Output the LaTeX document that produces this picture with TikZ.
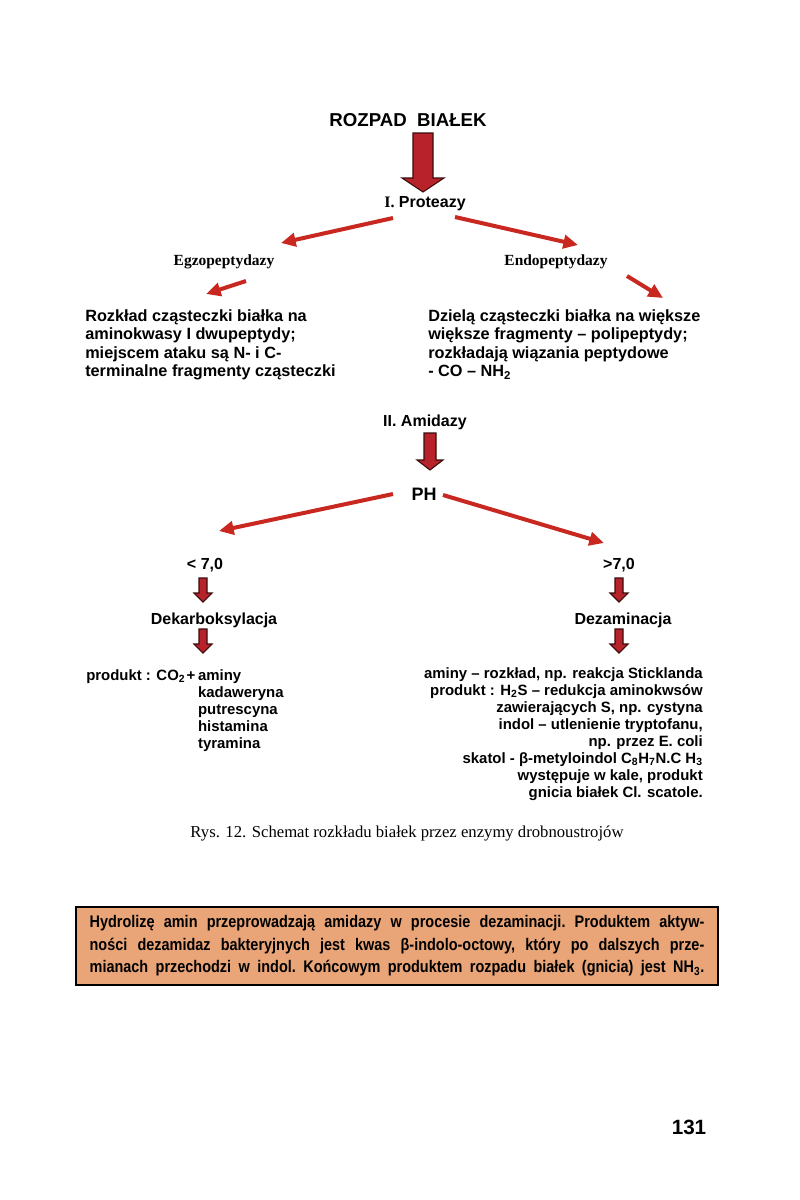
\documentclass[tikz,border=0pt]{standalone}
\usepackage{fontspec}
\setmainfont{Liberation Serif}
\newfontfamily\arialfont{Liberation Sans}
\newfontfamily\narrowfont[FakeStretch=0.86]{Liberation Sans}
\usetikzlibrary{arrows.meta, positioning}
\definecolor{protRed}{HTML}{C8281F}
\definecolor{protDark}{HTML}{3A0C0C}
\definecolor{blockRed}{HTML}{B8222A}
\definecolor{noteOrange}{HTML}{E9A478}

\begin{document}
\begin{tikzpicture}[x=0.75pt, y=-0.75pt,
    sanshead/.style={font=\arialfont\fontsize{12}{14}\selectfont\bfseries, inner sep=0pt},
    serifhead/.style={font=\fontsize{11.6}{14}\selectfont\bfseries, inner sep=0pt},
    bodytxt/.style={font=\arialfont\fontsize{12.2}{13.9}\selectfont\bfseries, inner sep=0pt, align=left},
    listtxt/.style={font=\arialfont\fontsize{11.2}{12.8}\selectfont\bfseries, inner sep=0pt},
    redarr/.style={draw=protRed, line width=3pt, -{Triangle[length=11pt, width=10pt]}},
    blockarr/.style={fill=blockRed, draw=protDark, line width=0.8pt, line join=miter},
    bigdown/.pic={\path[blockarr] (-10,0) -- (10,0) -- (10,45) -- (21,45) -- (0,59) -- (-21,45) -- (-10,45) -- cycle;},
    middown/.pic={\path[blockarr] (-6,0) -- (6,0) -- (6,27) -- (13,27) -- (0,37) -- (-13,27) -- (-6,27) -- cycle;},
    smalldown/.pic={\path[blockarr] (-4,0) -- (4,0) -- (4,15) -- (9,15) -- (0,24) -- (-9,15) -- (-4,15) -- cycle;},
    notebox/.style={draw=black, line width=1.5pt, fill=noteOrange, minimum width=481.5pt,
                    minimum height=58.5pt, inner sep=0pt, align=center,
                    font=\narrowfont\fontsize{12.6}{16.9}\selectfont\bfseries\frenchspacing},
  ]
    \fill[white] (0,0) rectangle (800,1200);
    \useasboundingbox (0,0) rectangle (800,1200);

    % proteazy
    \node[sanshead, font=\arialfont\fontsize{14}{16}\selectfont\bfseries] (title) at (408,120) {ROZPAD\ \ BIAŁEK};
    \pic (bigarr) at (423,133) {bigdown};
    \node[sanshead] (prot) at (425,204) {{\rmfamily I.} Proteazy};
    \node[serifhead] (egzo) at (224,262) {Egzopeptydazy};
    \node[serifhead] (endo) at (556,262) {Endopeptydazy};

    \coordinate (pl0) at (393,218); \coordinate (pl1) at (281,243);
    \coordinate (pr0) at (455,217); \coordinate (pr1) at (578,245);
    \coordinate (el0) at (246,281); \coordinate (el1) at (206,294);
    \coordinate (er0) at (627,276); \coordinate (er1) at (663,298);
    \draw[redarr] (pl0) -- (pl1);
    \draw[redarr] (pr0) -- (pr1);
    \draw[redarr] (el0) -- (el1);
    \draw[redarr] (er0) -- (er1);

    \node[bodytxt, anchor=north west] (egztxt) at (85,309) {Rozkład cząsteczki białka na\\aminokwasy I dwupeptydy;\\miejscem ataku są N- i C-\\terminalne fragmenty cząsteczki};
    \node[bodytxt, anchor=north west] (endtxt) at (428,309) {Dzielą cząsteczki białka na większe\\większe fragmenty – polipeptydy;\\rozkładają wiązania peptydowe\\- CO – NH\textsubscript{2}};

    % amidazy
    \node[sanshead] (amid) at (425,422) {II. Amidazy};
    \pic (midarr) at (430,433) {middown};
    \node[sanshead, font=\arialfont\fontsize{13.5}{16}\selectfont\bfseries] (ph) at (424,494) {PH};

    \coordinate (phl0) at (393,494); \coordinate (phl1) at (219,531);
    \coordinate (phr0) at (443,495); \coordinate (phr1) at (604,543);
    \draw[redarr] (phl0) -- (phl1);
    \draw[redarr] (phr0) -- (phr1);

    \node[sanshead] (lt) at (205,565) {< 7,0};
    \node[sanshead] (gt) at (619,565) {>7,0};
    \pic (ltarr) at (203,578) {smalldown};
    \pic (gtarr) at (619,578) {smalldown};
    \node[sanshead] (deka) at (214,620) {Dekarboksylacja};
    \node[sanshead] (deza) at (623,620) {Dezaminacja};
    \pic (dekarr) at (203,629) {smalldown};
    \pic (dezarr) at (619,629) {smalldown};

    \node[listtxt, anchor=north west] (dekprod) at (86,668) {\begin{tabular}{@{}r@{}l@{}}
      produkt : CO\textsubscript{2}\kern1pt+\kern2pt & aminy\\
      & kadaweryna\\
      & putrescyna\\
      & histamina\\
      & tyramina
    \end{tabular}};
    \node[listtxt, anchor=north east, align=right] (dezprod) at (703,667) {aminy – rozkład, np. reakcja Sticklanda\\
      produkt : H\textsubscript{2}S – redukcja aminokwsów\\
      zawierających S, np. cystyna\\
      indol – utlenienie tryptofanu,\\
      np. przez E. coli\\
      skatol - β-metyloindol C\textsubscript{8}H\textsubscript{7}N.C H\textsubscript{3}\\
      występuje w kale, produkt\\
      gnicia białek Cl. scatole.};

    \node[inner sep=0pt, font=\fontsize{12.5}{14}\selectfont] (rys) at (407,833) {Rys. 12. Schemat rozkładu białek przez enzymy drobnoustrojów};

    % ramka
    \node[notebox] (note) at (397,946) {\makebox[461pt][s]{Hydrolizę amin przeprowadzają amidazy w procesie dezaminacji. Produktem aktyw-}\\
      \makebox[461pt][s]{ności dezamidaz bakteryjnych jest kwas β-indolo-octowy, który po dalszych prze-}\\
      \makebox[461pt][s]{mianach przechodzi w indol. Końcowym produktem rozpadu białek (gnicia) jest NH\textsubscript{3}.}};

    \node[sanshead, font=\arialfont\fontsize{15.5}{18}\selectfont\bfseries] (pnum) at (689,1127) {131};
  \end{tikzpicture}
\end{document}
